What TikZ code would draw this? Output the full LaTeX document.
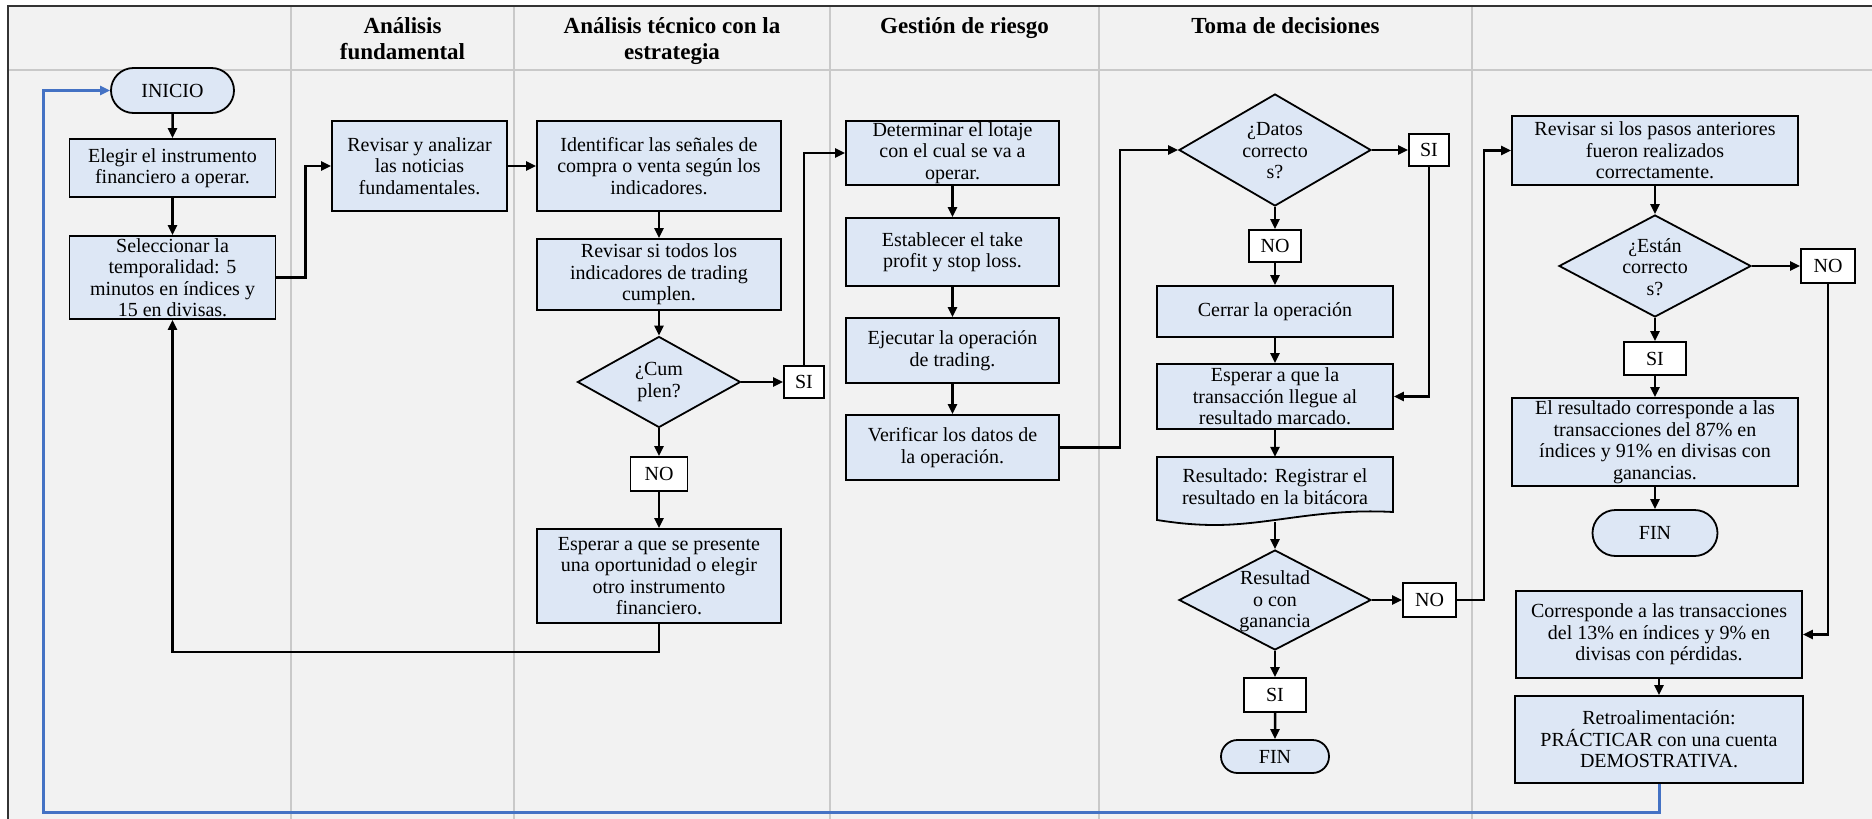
\documentclass[tikz,border=0pt]{standalone}
\usepackage{fontspec}
\setmainfont{Liberation Serif}
\usetikzlibrary{arrows.meta,shapes.geometric,shapes.misc}
\definecolor{boxfill}{HTML}{DDE7F5}
\definecolor{bg}{HTML}{F2F2F2}
\definecolor{lanec}{HTML}{C9C9C9}
\definecolor{framec}{HTML}{333333}
\definecolor{loopblue}{HTML}{4472C4}
\tikzset{
 bodyfont/.style={font=\fontsize{20}{21.5}\selectfont},
 proc/.style={draw=black, line width=1.8pt, fill=boxfill, inner sep=0pt, align=center, bodyfont},
 term/.style={rounded rectangle, draw=black, line width=1.8pt, fill=boxfill, inner sep=0pt, bodyfont},
 dia/.style={diamond, draw=black, line width=1.8pt, fill=boxfill, inner sep=0pt},
 dtext/.style={align=center, inner sep=0pt, bodyfont},
 lbl/.style={draw=black, line width=1.8pt, fill=white, inner sep=0pt, bodyfont},
 head/.style={anchor=base, inner sep=0pt, font=\fontsize{23}{25}\selectfont\bfseries},
 flow/.style={line width=2.5pt, -{Triangle[length=10pt,width=9pt]}},
 lanel/.style={draw=lanec, line width=2pt},
}
\begin{document}
\begin{tikzpicture}[x=1pt,y=-1pt]
\useasboundingbox (0,0) rectangle (1872,819);
% background and lanes
\fill[white] (0,0) rectangle (1872,819);
\fill[bg] (8,6) rectangle (1872,819);
\foreach \lx in {291,514,830,1099,1472} { \draw[lanel] (\lx,6) -- (\lx,819); }
\draw[lanel] (8,70) -- (1872,70);
\draw[framec, line width=2.2pt] (8,819) -- (8,6) -- (1872,6);
% headers
\node[head] (h1a) at (402.5,34) {Análisis};
\node[head] (h1b) at (402.5,59) {fundamental};
\node[head] (h2a) at (672,34) {Análisis técnico con la};
\node[head] (h2b) at (672,59) {estrategia};
\node[head] (h3) at (964.5,34) {Gestión de riesgo};
\node[head] (h4) at (1285.5,34) {Toma de decisiones};

% lane 0
\node[term, minimum width=123pt, minimum height=45pt] (inicio) at (172.5,90.5) {INICIO};
\node[proc, minimum width=206pt, minimum height=58pt] (elegir) at (172.5,168) {Elegir el instrumento\\financiero a operar.};
\node[proc, minimum width=206pt, minimum height=83pt] (selecc) at (172.5,277.5) {Seleccionar la\\temporalidad: 5\\minutos en índices y\\15 en divisas.};
% lane 1
\node[proc, minimum width=175pt, minimum height=90pt] (revisar) at (419.5,166) {Revisar y analizar\\las noticias\\fundamentales.};
% lane 2
\node[proc, minimum width=244pt, minimum height=90pt] (ident) at (659,166) {Identificar las señales de\\compra o venta según los\\indicadores.};
\node[proc, minimum width=244pt, minimum height=71pt] (revtodos) at (659,274.5) {Revisar si todos los\\indicadores de trading\\cumplen.};
\node[dia, minimum width=163pt, minimum height=91pt] (dcum) at (659,382) {};
\node[dtext] (dcumt) at (659,382) {¿Cum\\plen?};
\node[lbl, minimum width=40pt, minimum height=32pt] (si1) at (804,382) {SI};
\node[lbl, minimum width=57pt, minimum height=34pt] (no1) at (659,474) {NO};
\node[proc, minimum width=244pt, minimum height=94pt] (esp1) at (659,576) {Esperar a que se presente\\una oportunidad o elegir\\otro instrumento\\financiero.};
% lane 3
\node[proc, minimum width=213pt, minimum height=64pt] (determ) at (952.5,153) {Determinar el lotaje\\con el cual se va a\\operar.};
\node[proc, minimum width=213pt, minimum height=68pt] (estab) at (952.5,252) {Establecer el take\\profit y stop loss.};
\node[proc, minimum width=213pt, minimum height=65pt] (ejec) at (952.5,350.5) {Ejecutar la operación\\de trading.};
\node[proc, minimum width=213pt, minimum height=65pt] (verif) at (952.5,447.5) {Verificar los datos de\\la operación.};
% lane 4
\node[dia, minimum width=192pt, minimum height=112pt] (ddat) at (1275,150) {};
\node[dtext] (ddatt) at (1275,151) {¿Datos\\correcto\\s?};
\node[lbl, minimum width=40pt, minimum height=32pt] (si2) at (1429,150) {SI};
\node[lbl, minimum width=52pt, minimum height=32pt] (no2) at (1275,246) {NO};
\node[proc, minimum width=236pt, minimum height=51pt] (cerrar) at (1275,311.5) {Cerrar la operación};
\node[proc, minimum width=236pt, minimum height=65pt] (esp2) at (1275,396.5) {Esperar a que la\\transacción llegue al\\resultado marcado.};
\filldraw[fill=boxfill, draw=black, line width=1.8pt] (1157,457) -- (1393,457) -- (1393,512)
  .. controls (1320,508) and (1270,525) .. (1215,525)
  .. controls (1190,525) and (1170,522) .. (1157,520) -- cycle;
\node[inner sep=0pt, minimum width=236pt, minimum height=65pt] (res) at (1275,489.5) {};
\node[dtext] (rest) at (1275,486.5) {Resultado: Registrar el\\resultado en la bitácora};
\node[dia, minimum width=192pt, minimum height=100pt] (dres) at (1275,600) {};
\node[dtext] (drest) at (1275,601.5) {Resultad\\o con\\ganancia};
\node[lbl, minimum width=53pt, minimum height=34pt] (no3) at (1429.5,600) {NO};
\node[lbl, minimum width=62pt, minimum height=34pt] (si3) at (1275,695) {SI};
\node[term, minimum width=108pt, minimum height=33pt] (fin1) at (1275,756.5) {FIN};
% lane 5
\node[proc, minimum width=286pt, minimum height=69pt] (revpasos) at (1655,150.5) {Revisar si los pasos anteriores\\fueron realizados\\correctamente.};
\node[dia, minimum width=192pt, minimum height=102pt] (dest) at (1655,266) {};
\node[dtext] (destt) at (1655,267) {¿Están\\correcto\\s?};
\node[lbl, minimum width=54pt, minimum height=34pt] (no4) at (1828,266) {NO};
\node[lbl, minimum width=62pt, minimum height=33pt] (si4) at (1655,358.5) {SI};
\node[proc, minimum width=286pt, minimum height=88pt] (elres) at (1655,442) {El resultado corresponde a las\\transacciones del 87\% en\\índices y 91\% en divisas con\\ganancias.};
\node[term, minimum width=125pt, minimum height=46pt] (fin2) at (1655,533) {FIN};
\node[proc, minimum width=286pt, minimum height=87pt] (corr) at (1659,634.5) {Corresponde a las transacciones\\del 13\% en índices y 9\% en\\divisas con pérdidas.};
\node[proc, minimum width=288pt, minimum height=87pt] (retro) at (1659,739.5) {Retroalimentación:\\PRÁCTICAR con una cuenta\\DEMOSTRATIVA.};
\coordinate (bl) at (43,812);

% connectors
\draw[flow] (inicio) -- (elegir);
\draw[flow] (elegir) -- (selecc);
\draw[flow] (selecc.east) -- ++(29,0) |- (revisar.west);
\draw[flow] (revisar) -- (ident);
\draw[flow] (ident) -- (revtodos);
\draw[flow] (revtodos) -- (dcum);
\draw[flow] (dcum) -- (si1);
\draw[flow] (si1.north) |- (determ.west);
\draw[flow] (dcum) -- (no1);
\draw[flow] (no1) -- (esp1);
\draw[flow] (esp1.south) -- ++(0,28) -| (selecc.south);
\draw[flow] (determ) -- (estab);
\draw[flow] (estab) -- (ejec);
\draw[flow] (ejec) -- (verif);
\draw[flow] (verif.east) -- ++(60,0) |- (ddat.west);
\draw[flow] (ddat) -- (si2);
\draw[flow] (si2.south) |- (esp2.east);
\draw[flow] (ddat) -- (no2);
\draw[flow] (no2) -- (cerrar);
\draw[flow] (cerrar) -- (esp2);
\draw[flow] (esp2) -- (res);
\draw[flow] (res) -- (dres);
\draw[flow] (dres) -- (no3);
\draw[flow] (no3.east) -- ++(27,0) |- (revpasos.west);
\draw[flow] (dres) -- (si3);
\draw[flow] (si3) -- (fin1);
\draw[flow] (revpasos) -- (dest);
\draw[flow] (dest) -- (no4);
\draw[flow] (dest) -- (si4);
\draw[flow] (si4) -- (elres);
\draw[flow] (elres) -- (fin2);
\draw[flow] (no4.south) |- (corr.east);
\draw[flow] (corr) -- (retro);
\draw[loopblue, line width=3pt, -{Triangle[length=10pt,width=9pt]}] (retro.south) |- (bl) |- (inicio.west);
\end{tikzpicture}
\end{document}
